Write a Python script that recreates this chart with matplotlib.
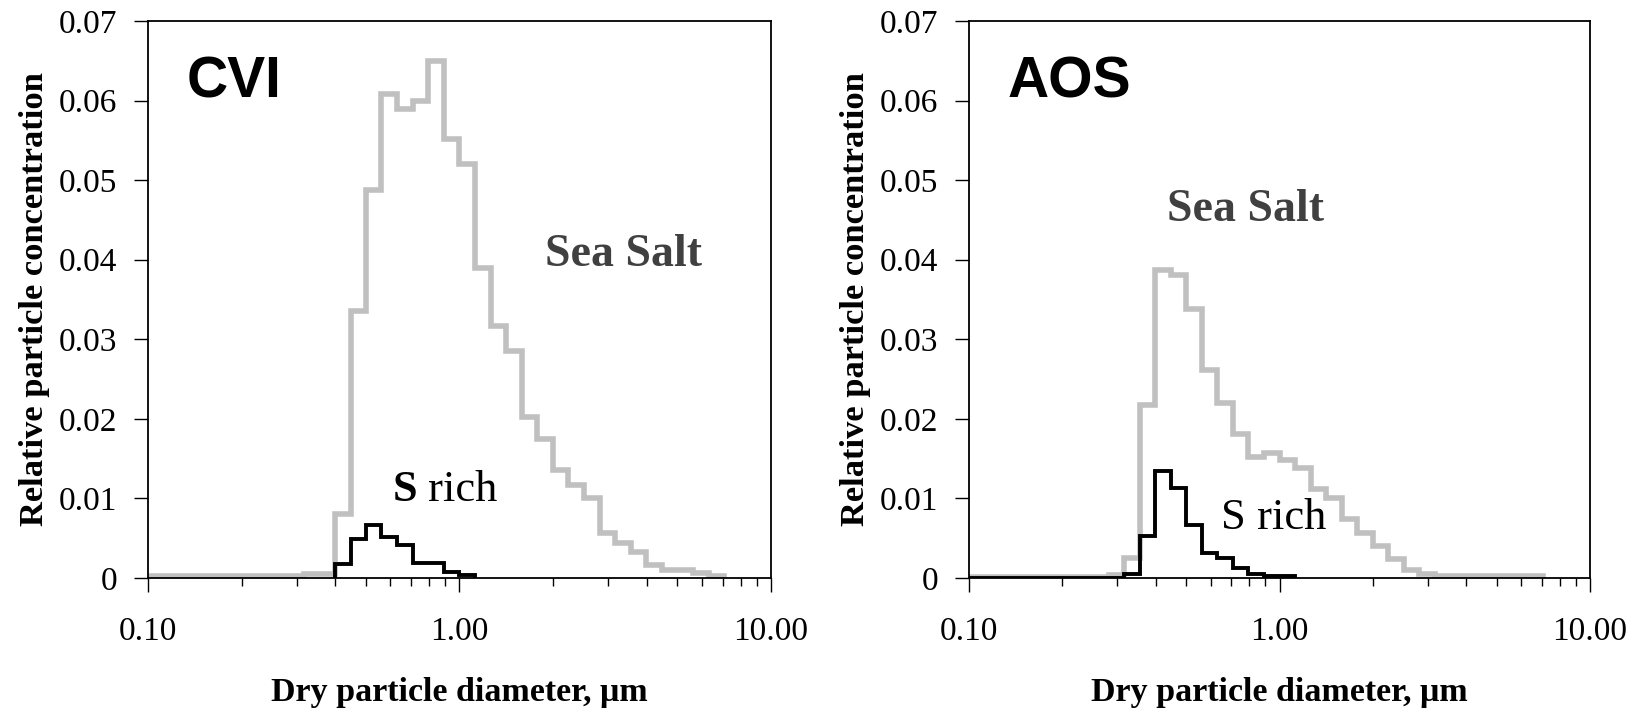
import numpy as np
import matplotlib.pyplot as plt
from matplotlib.ticker import NullLocator, LogLocator

plt.rcParams['font.family'] = ['Liberation Serif', 'DejaVu Serif']

# dry diameter bin edges (um), 20 bins per decade
edges = [0.100, 0.112, 0.126, 0.141, 0.158, 0.178, 0.200, 0.224, 0.251, 0.282,
         0.316, 0.355, 0.398, 0.447, 0.501, 0.562, 0.631, 0.708, 0.794, 0.891,
         1.000, 1.122, 1.259, 1.413, 1.585, 1.778, 1.995, 2.239, 2.512, 2.818,
         3.162, 3.548, 3.981, 4.467, 5.012, 5.623, 6.310, 7.079]

# CVI (cloud residuals)
cvi_seasalt = [0.0002, 0.0002, 0.0002, 0.0002, 0.0002, 0.0002, 0.0002, 0.0002,
               0.0002, 0.0002, 0.0005, 0.0005, 0.0081, 0.0336, 0.0488, 0.0608,
               0.0589, 0.0600, 0.0650, 0.0552, 0.0520, 0.0389, 0.0317, 0.0285,
               0.0202, 0.0175, 0.0136, 0.0117, 0.0100, 0.0057, 0.0044, 0.0033,
               0.0016, 0.0010, 0.0010, 0.0006, 0.0003]
cvi_srich_first_bin = 12
cvi_srich = [0.0017, 0.0049, 0.0066, 0.0052, 0.0042, 0.0019, 0.0019, 0.0007, 0.0004]

# AOS (interstitial / ambient)
aos_seasalt = [0.0001, 0.0001, 0.0001, 0.0001, 0.0001, 0.0001, 0.0001, 0.0001,
               0.0001, 0.0004, 0.0025, 0.0218, 0.0387, 0.0381, 0.0338, 0.0262,
               0.0220, 0.0181, 0.0152, 0.0157, 0.0148, 0.0138, 0.0112, 0.0101,
               0.0074, 0.0056, 0.0040, 0.0024, 0.0010, 0.0005, 0.0002, 0.0002,
               0.0002, 0.0002, 0.0002, 0.0002, 0.0002]
aos_srich_first_bin = 0
aos_srich = [0, 0, 0, 0, 0, 0, 0, 0, 0, 0, 0.0005, 0.0053, 0.0134, 0.0113,
             0.0067, 0.0031, 0.0025, 0.0013, 0.0005, 0.0002, 0.0002]

yticks = [0, 0.01, 0.02, 0.03, 0.04, 0.05, 0.06, 0.07]
ytick_labels = ['0', '0.01', '0.02', '0.03', '0.04', '0.05', '0.06', '0.07']
xticks = [0.1, 1.0, 10.0]
xtick_labels = ['0.10', '1.00', '10.00']

GRAY = '#c0c0c0'


def panel(ax, seasalt, srich, srich_first, name, salt_pos, rich_pos, bold_s):
    ax.stairs(seasalt, edges[:len(seasalt) + 1], baseline=0,
              color=GRAY, lw=4.0, zorder=2)
    ax.stairs(srich, edges[srich_first:srich_first + len(srich) + 1], baseline=0,
              color='black', lw=2.8, zorder=3)

    ax.set_xscale('log')
    ax.set_xlim(0.1, 10)
    ax.set_ylim(0, 0.07)
    ax.set_xticks(xticks)
    ax.set_xticklabels(xtick_labels)
    ax.xaxis.set_minor_locator(LogLocator(base=10, subs=np.arange(2, 10)))
    ax.xaxis.set_minor_formatter(plt.NullFormatter())
    ax.set_yticks(yticks)
    ax.set_yticklabels(ytick_labels)
    ax.yaxis.set_minor_locator(NullLocator())

    ax.tick_params(axis='y', which='major', direction='out', length=10,
                   width=1, labelsize=24, pad=12)
    ax.tick_params(axis='x', which='major', direction='out', length=10,
                   width=1, labelsize=24, pad=18)
    ax.tick_params(axis='x', which='minor', direction='out', length=6, width=1)
    for sp in ax.spines.values():
        sp.set_linewidth(1.3)

    ax.set_xlabel('Dry particle diameter, μm', fontsize=24.5, fontweight='bold')
    ax.xaxis.set_label_coords(0.5, -0.205)
    ax.xaxis.label.set_va('center')
    ax.set_ylabel('Relative particle concentration', fontsize=24.8,
                  fontweight='bold')
    ax.yaxis.set_label_coords(-0.182, 0.5)
    ax.yaxis.label.set_va('center')

    ax.text(0.062, 0.89, name, transform=ax.transAxes, fontsize=41,
            fontweight='bold', family=['Liberation Sans', 'DejaVu Sans'],
            ha='left', va='center')
    ax.text(salt_pos[0], salt_pos[1], 'Sea Salt', transform=ax.transAxes,
            fontsize=33, fontweight='bold', color='#404040',
            ha='left', va='center')
    s = ax.text(rich_pos[0], rich_pos[1], 'S', transform=ax.transAxes,
                fontsize=32, fontweight='bold' if bold_s else 'normal',
                ha='left', va='center')
    ax.annotate(' rich', xy=(1, 0), xycoords=s, fontsize=32,
                ha='left', va='bottom')


fig = plt.figure(figsize=(16.33, 7.14), dpi=100)
ax1 = fig.add_axes([0.0906, 0.1905, 0.3815, 0.780])
ax2 = fig.add_axes([0.5934, 0.1905, 0.3803, 0.780])

panel(ax1, cvi_seasalt, cvi_srich, cvi_srich_first_bin, 'CVI',
      (0.638, 0.58), (0.393, 0.158), True)
panel(ax2, aos_seasalt, aos_srich, aos_srich_first_bin, 'AOS',
      (0.318, 0.661), (0.406, 0.108), False)

fig.savefig('out.png', dpi=100)
